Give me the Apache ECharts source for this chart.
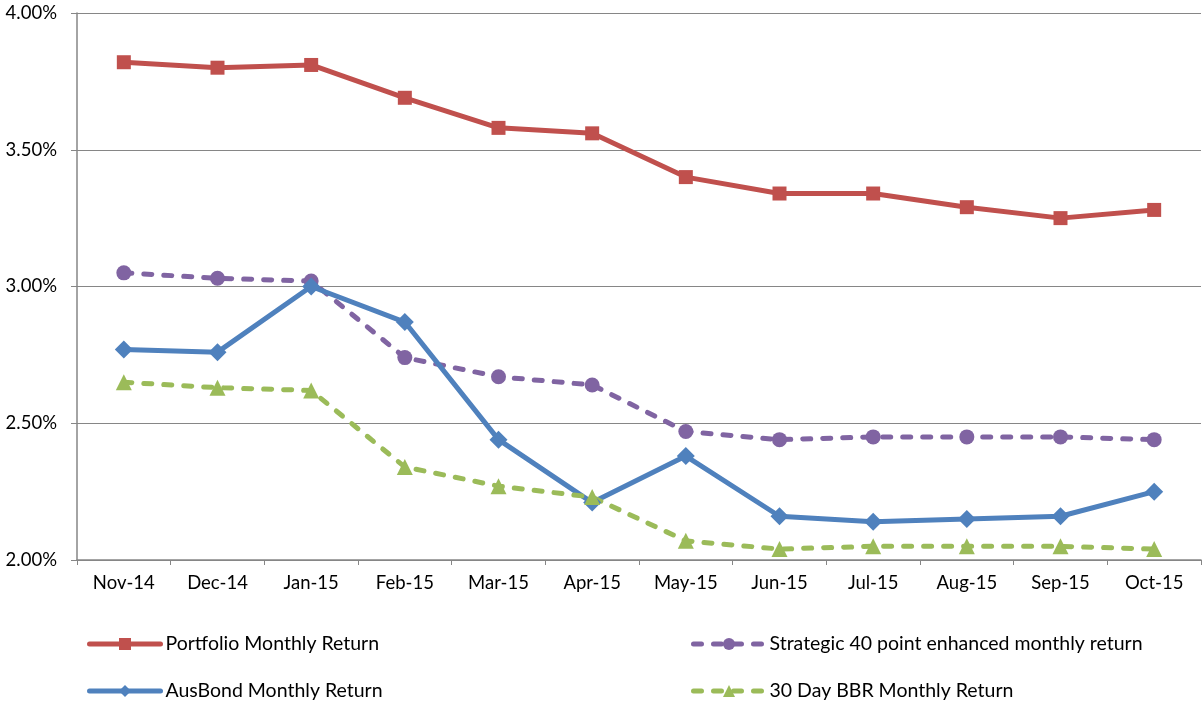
<!DOCTYPE html>
<html><head><meta charset="utf-8">
<script src="https://cdn.jsdelivr.net/npm/echarts@6/dist/echarts.min.js"></script>
<style>html,body{margin:0;padding:0;background:#fff}#c{width:1203px;height:704px}</style>
</head><body><div id="c"></div>
<script>
const categories = ['Nov-14','Dec-14','Jan-15','Feb-15','Mar-15','Apr-15','May-15','Jun-15','Jul-15','Aug-15','Sep-15','Oct-15'];
const portfolio = [3.82,3.80,3.81,3.69,3.58,3.56,3.40,3.34,3.34,3.29,3.25,3.28];
const strategic = [3.05,3.03,3.02,2.74,2.67,2.64,2.47,2.44,2.45,2.45,2.45,2.44];
const ausbond = [2.77,2.76,3.00,2.87,2.44,2.21,2.38,2.16,2.14,2.15,2.16,2.25];
const bbr = [2.65,2.63,2.62,2.34,2.27,2.23,2.07,2.04,2.05,2.05,2.05,2.04];
const names = ['Portfolio Monthly Return','Strategic 40 point enhanced monthly return','AusBond Monthly Return','30 Day BBR Monthly Return'];

const font = 'Lato, "Open Sans", sans-serif';
const chart = echarts.init(document.getElementById('c'));
const legendBase = {itemWidth:71,itemHeight:15,textStyle:{fontSize:19.5,color:'#000',fontFamily:font},itemGap:5,padding:0,
  lineStyle:{width:5,cap:'round'}};
const dash = [8,12];
chart.setOption({
  animation:false,
  grid:{left:77,right:2,top:13,height:547},
  legend:[
    Object.assign({data:[names[0]],left:87,top:634},legendBase),
    Object.assign({data:[names[1]],left:691,top:634},legendBase),
    Object.assign({data:[names[2]],left:87,top:681},legendBase),
    Object.assign({data:[names[3]],left:691,top:681},legendBase)
  ],
  xAxis:{type:'category',data:categories,boundaryGap:true,
    axisLine:{lineStyle:{color:'#868686',width:1.5}},
    axisTick:{show:true,length:5,lineStyle:{color:'#868686'}},
    axisLabel:{color:'#000',fontSize:18.5,fontFamily:font,margin:14}},
  yAxis:{type:'value',min:2,max:4,interval:0.5,
    axisLine:{show:true,lineStyle:{color:'#868686',width:1.5}},
    axisTick:{show:true,length:6,lineStyle:{color:'#868686'}},
    splitLine:{lineStyle:{color:'#868686',width:1}},
    axisLabel:{color:'#000',fontSize:18.5,fontFamily:font,margin:20,formatter:v=>v.toFixed(2)+'%'}},
  series:[
    {name:names[0],type:'line',data:portfolio,symbol:'rect',symbolSize:14,
     lineStyle:{color:'#C0504D',width:5,cap:'round',join:'round'},itemStyle:{color:'#C0504D'}},
    {name:names[1],type:'line',data:strategic,symbol:'circle',symbolSize:15,
     lineStyle:{color:'#8064A2',width:5,type:dash,cap:'round'},itemStyle:{color:'#8064A2'}},
    {name:names[2],type:'line',data:ausbond,symbol:'diamond',symbolSize:18,
     lineStyle:{color:'#4F81BD',width:5,cap:'round',join:'round'},itemStyle:{color:'#4F81BD'}},
    {name:names[3],type:'line',data:bbr,symbol:'triangle',symbolSize:16,
     lineStyle:{color:'#9BBB59',width:5,type:dash,cap:'round'},itemStyle:{color:'#9BBB59'}}
  ]
});
</script></body></html>
